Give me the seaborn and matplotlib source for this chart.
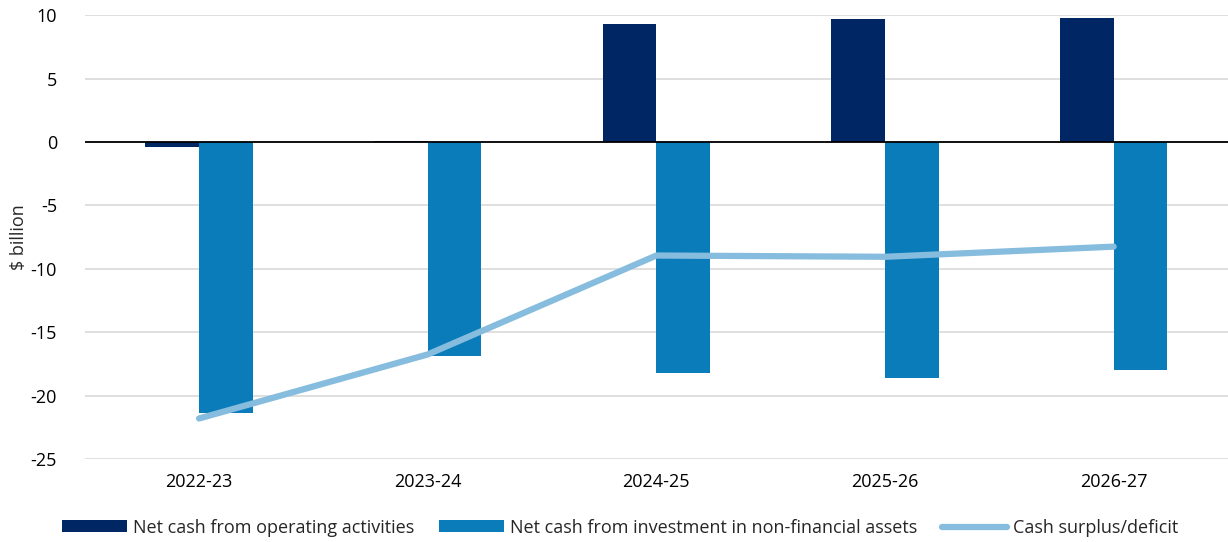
import numpy as np
import pandas as pd
import matplotlib
matplotlib.use("Agg")
import matplotlib.pyplot as plt
import seaborn as sns
from matplotlib.patches import Patch
from matplotlib.lines import Line2D

years = ["2022-23", "2023-24", "2024-25", "2025-26", "2026-27"]
operating = [-0.4, 0.1, 9.3, 9.7, 9.75]
investment = [-21.4, -16.9, -18.2, -18.6, -17.95]
surplus = [-21.8, -16.75, -8.95, -9.05, -8.25]
series_names = ["Net cash from operating activities",
                "Net cash from investment in non-financial assets",
                "Cash surplus/deficit"]
yticks = [10, 5, 0, -5, -10, -15, -20, -25]

c_dark = "#002664"
c_mid = "#0A7CB9"
c_light = "#86BCDE"

sns.set_theme(style="white")
plt.rcParams['font.family'] = ['Open Sans', 'DejaVu Sans']

df = pd.DataFrame({
    "year": years * 2,
    "value": operating + investment,
    "series": [series_names[0]] * 5 + [series_names[1]] * 5,
})

fig = plt.figure(figsize=(12.28, 5.42), dpi=100)
ax = fig.add_axes([0.069, 0.153, 0.931, 0.819])

sns.barplot(data=df, x="year", y="value", hue="series", order=years,
            hue_order=series_names[:2], palette=[c_dark, c_mid],
            width=0.47, dodge=True, saturation=1, legend=False, ax=ax,
            linewidth=0)

xpos = np.arange(len(years))
sns.lineplot(x=xpos, y=surplus, color=c_light, linewidth=4.5,
             solid_capstyle="round", ax=ax, legend=False, zorder=3)

ax.set_xlim(-0.5, len(years) - 0.5)
ax.set_ylim(-25, 10)
ax.set_yticks(yticks)
ax.set_yticklabels([str(t) for t in yticks])
ax.set_xticks(xpos)
ax.set_xticklabels(years)
ax.yaxis.grid(True, color="#d9d9d9", linewidth=1.2)
ax.set_axisbelow(True)
ax.axhline(0, color="black", linewidth=1.3, zorder=2.5)
for s in ax.spines.values():
    s.set_visible(False)
ax.tick_params(axis="both", length=0, labelsize=13, colors="black")
ax.tick_params(axis="y", pad=20)
ax.tick_params(axis="x", pad=10)
ax.set_xlabel("")
ax.set_ylabel("$ billion", fontsize=13, labelpad=2)

handles = [Patch(facecolor=c_dark, edgecolor="none"),
           Patch(facecolor=c_mid, edgecolor="none"),
           Line2D([0], [0], color=c_light, linewidth=4.5, solid_capstyle="round")]
fig.legend(handles, series_names, loc="lower center", bbox_to_anchor=(0.505, -0.02),
           ncol=3, frameon=False, fontsize=13, handlelength=3.6, handleheight=0.6,
           columnspacing=1.4, handletextpad=0.3)

fig.savefig("out.png", dpi=100)
